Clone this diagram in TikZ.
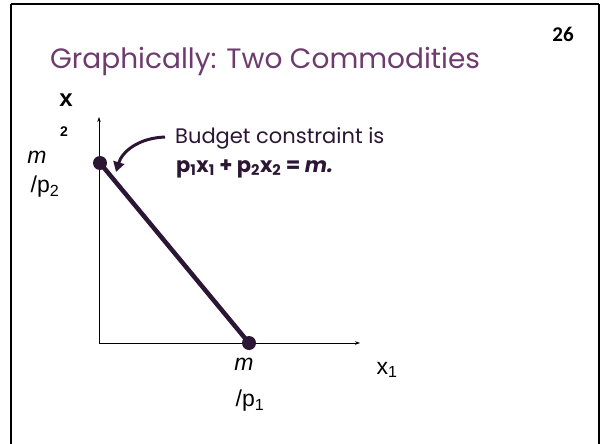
\documentclass[tikz,border=0pt]{standalone}
\usepackage{fontspec}
\setmainfont{Liberation Sans}
\newfontfamily\gothic{Poppins}
\newfontfamily\calib{Carlito}
\usetikzlibrary{arrows.meta}
\definecolor{titlepurple}{HTML}{6E3B6E}
\definecolor{darkplum}{HTML}{2B1633}
\begin{document}
\begin{tikzpicture}[x=1pt,y=-1pt,
  frame/.style={draw=black,line width=2pt},
  axis/.style={draw=black,line width=0.6pt,-{Stealth[length=5pt,width=3.5pt]}},
  budget/.style={draw=darkplum,line width=4.5pt},
  dot/.style={circle,fill=darkplum,inner sep=0pt,minimum size=14pt},
  pointer/.style={draw=darkplum,line width=3pt,-{Triangle[length=10pt,width=11pt]}},
  axlabel/.style={font=\fontsize{23}{25}\selectfont,text=black,inner sep=0pt},
  smalllabel/.style={font=\fontsize{13}{14}\selectfont,text=black,inner sep=0pt},
  bctext/.style={font=\gothic\fontsize{21}{23}\selectfont,text=darkplum,inner sep=0pt,anchor=base west},
]
\useasboundingbox (0,0) rectangle (602,444);
\draw[frame] (11,4) -- (599,4);
\draw[frame] (11,4) -- (11,446);
\draw[frame] (599,4) -- (599,446);
% title and page number
\node[font=\gothic\fontsize{28}{30}\selectfont,text=titlepurple,inner sep=0pt,anchor=base west] (title) at (50,69) {Graphically: Two Commodities};
\node[font=\calib\bfseries\fontsize{21}{24}\selectfont,text=black,inner sep=0pt] (page) at (563,34) {26};
% axes
\coordinate (O) at (99,343);
\coordinate (ytop) at (99,117);
\coordinate (xend) at (360,343);
\draw[axis] (O) -- (ytop);
\draw[axis] (O) -- (xend);
% budget line
\node[dot] (A) at (100,163) {};
\node[dot] (B) at (249,343) {};
\draw[budget] (A.center) -- (B.center);
% labels
\node[axlabel,font=\fontsize{24}{26}\selectfont\bfseries] (xlab) at (66,100) {x};
\node[smalllabel,font=\fontsize{14}{15}\selectfont\bfseries] (xsub) at (64,132) {2};
\node[axlabel] (m2) at (37,157) {\itshape m};
\node[axlabel] (p2) at (45,187) {/p\textsubscript{2}};
\node[axlabel] (m1) at (244,364) {\itshape m};
\node[axlabel] (p1) at (250,401) {/p\textsubscript{1}};
\node[axlabel] (x1) at (387,370) {x\textsubscript{1}};
% budget constraint text
\node[bctext] (bc1) at (175,143) {Budget constraint is};
\node[bctext,font=\gothic\bfseries\fontsize{21}{23}\selectfont] (bc2) at (176,172) {p\textsubscript{1}x\textsubscript{1} + p\textsubscript{2}x\textsubscript{2} = \textit{m.}};
\coordinate (cs) at (165,137);
\coordinate (ce) at (116,172);
\draw[pointer] (cs) .. controls (138,138) and (122,152) .. (ce);
\end{tikzpicture}
\end{document}
